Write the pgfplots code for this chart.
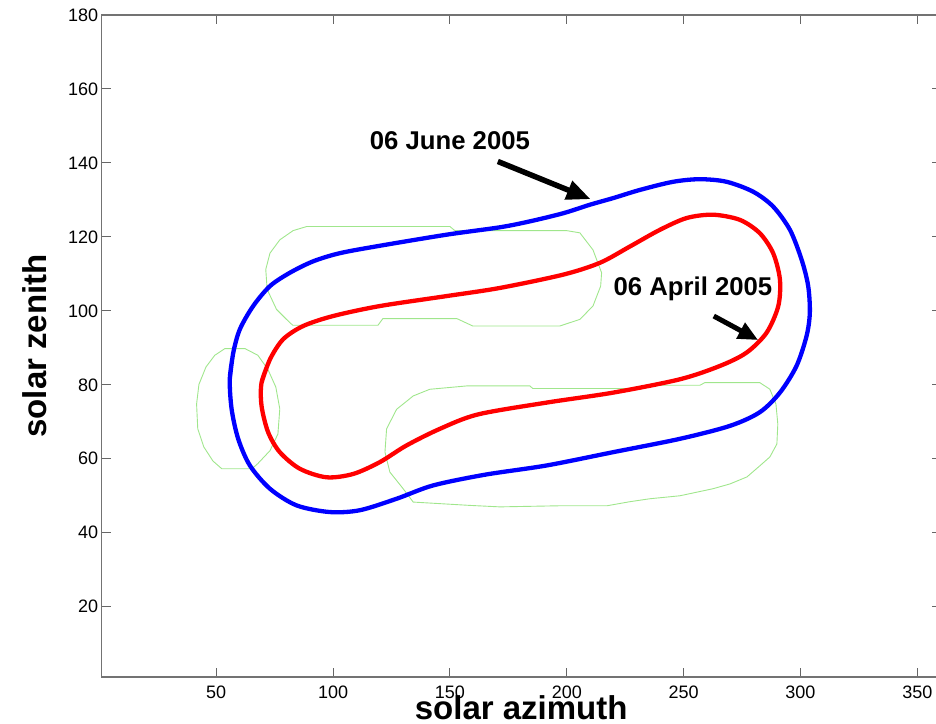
\documentclass[border=0pt]{standalone}
\usepackage{fontspec}
\setmainfont{Liberation Sans}
\usepackage{pgfplots}
\pgfplotsset{compat=1.18}
\usetikzlibrary{arrows.meta}
\definecolor{mgreen}{RGB}{160,230,140}
\begin{document}
\begin{tikzpicture}
\path[use as bounding box] (0,0) rectangle (936pt,723pt);
\clip (0,0) rectangle (936pt,723pt);
\begin{axis}[
 at={(101.7pt,46pt)}, anchor=south west,
 scale only axis, width=839pt, height=662pt,
 xmin=1, xmax=360, ymin=1, ymax=180,
 xtick={50,100,...,350}, ytick={20,40,...,180},
 tick align=inside, tick pos=both, major tick length=9pt,
 axis line style={black!55, line width=1.2pt},
 tick style={black!60, line width=1pt},
 /pgf/number format/assume math mode=true,
 ticklabel style={font=\fontsize{18}{20}\selectfont, text=black},
 xticklabel style={yshift=-5pt},
 xlabel={solar azimuth}, ylabel={solar zenith},
 label style={font=\bfseries\fontsize{33}{36}\selectfont},
 xlabel style={at={(axis description cs:0.5,0)}, anchor=base, yshift=-42pt},
 ylabel style={at={(axis description cs:-0.0655,0.5)}, anchor=base},
]
% green regions
\addplot[mgreen, line width=0.9pt] coordinates {
(53.7,89.8) (62.3,89.8) (67.8,88.0) (72.1,84.2) (75.5,79.4) (77.2,73.5) (76.4,66.7)
(73.0,62.2) (67.8,58.7) (65.3,57.3) (52.4,57.3) (48.6,59.4) (44.7,63.2) (42.1,68.1)
(41.6,74.8) (42.6,80.1) (45.6,84.8) (49.4,88.0) (53.7,89.8)};
\addplot[mgreen, line width=0.9pt] coordinates {
(88.7,122.8) (150.0,122.8) (152.1,121.7) (199.9,121.7) (205.6,121.1) (211.2,116.5)
(214.9,110.3) (214.5,106.7) (211.2,101.3) (205.6,97.7) (197.0,95.9) (159.8,95.9)
(153.0,97.9) (121.3,97.9) (119.2,96.1) (82.8,96.1) (81.5,96.8) (75.8,100.4)
(71.8,105.8) (71.2,111.2) (73.0,115.6) (77.2,119.2) (82.9,121.7) (88.7,122.8)};
\addplot[mgreen, line width=0.9pt] coordinates {
(134.3,77.0) (141.4,78.8) (157.1,79.7) (184.2,79.7) (185.5,79.0) (231.3,79.0)
(233.4,79.9) (257.0,79.9) (259.1,80.6) (282.6,80.6) (286.9,78.8) (289.5,74.8)
(290.3,69.4) (289.9,64.0) (286.9,60.5) (282.6,58.1) (277.1,55.1) (269.8,53.2)
(262.5,51.9) (248.4,50.0) (235.6,49.2) (227.0,48.4) (217.2,47.3) (197.0,47.3)
(171.4,47.0) (158.5,47.4) (134.3,48.3) (130.0,51.9) (124.3,56.4) (122.2,61.8)
(122.9,68.1) (127.2,73.4) (134.3,77.0)};
% 06 April 2005 (red)
\addplot[red, line width=4.3pt, smooth, tension=0.5] coordinates {
(69.4,80.6) (73.0,86.9) (78.6,92.3) (87.2,95.9) (100.0,98.6) (120.0,101.3)
(148.6,104.0) (171.4,106.2) (198.5,109.8) (214.2,113.0) (227.0,117.4)
(239.8,121.9) (251.3,125.1) (262.6,126.0) (274.1,124.6) (282.6,121.0) (288.3,115.6)
(291.2,108.5) (290.5,101.3) (285.5,94.1) (276.9,88.7) (265.5,85.1) (248.4,81.5)
(219.9,77.9) (191.4,75.2) (162.0,72.0) (145.7,68.1) (131.4,63.6)
(120.0,59.1) (108.6,55.9) (97.2,55.0) (85.8,57.3) (77.2,61.8) (72.2,67.2)
(69.4,74.3) (69.4,80.6) (73.0,86.9)};
% 06 June 2005 (blue)
\addplot[blue, line width=4.3pt, smooth, tension=0.5] coordinates {
(55.8,81.5) (57.3,88.7) (60.1,95.0) (65.8,101.3) (73.0,106.7) (81.5,110.3)
(91.5,113.4) (102.9,115.6) (120.0,117.6) (148.6,120.6) (171.4,122.6) (184.2,124.2)
(198.5,126.4) (209.9,128.7) (219.9,130.5) (231.3,132.7) (245.5,134.9) (257.0,135.6)
(268.4,134.9) (279.8,132.2) (288.3,128.2) (295.5,121.9) (300.5,113.8) (303.3,106.7)
(304.0,99.5) (302.6,93.2) (298.3,85.1) (291.2,77.9) (282.6,72.6) (269.8,68.9)
(248.4,65.4) (219.9,61.8) (191.4,58.2) (165.0,55.7) (142.8,52.8)
(127.2,49.2) (111.5,46.1) (98.6,45.6) (84.4,47.4) (73.0,51.9) (64.4,58.2)
(59.4,65.4) (56.6,73.4) (55.8,81.5) (57.3,88.7)};
% annotations
\node[font=\bfseries\fontsize{25.7}{28}\selectfont] at (axis cs:150,145.9) {06 June 2005};
\node[font=\bfseries\fontsize{25.7}{28}\selectfont] at (axis cs:254,106.0) {06 April 2005};
\draw[line width=5.5pt, -{Triangle[length=24pt,width=19pt]}] (axis cs:170.5,140.4) -- (axis cs:210.2,130.2);
\draw[line width=5pt, -{Triangle[length=20pt,width=17pt]}] (axis cs:262.9,98.6) -- (axis cs:281.9,92.1);
\end{axis}
\end{tikzpicture}
\end{document}
